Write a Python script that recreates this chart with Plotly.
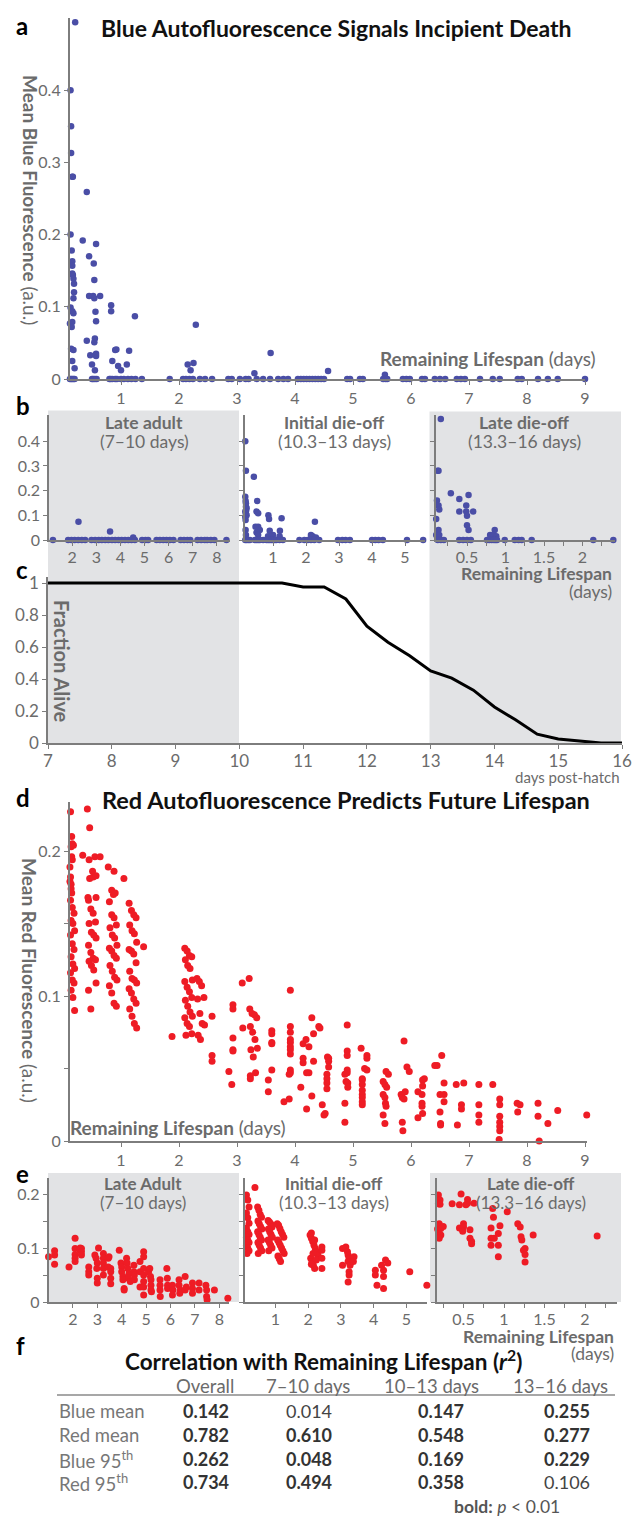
import plotly.graph_objects as go

W, H = 640, 1518
FONT = "Lato, 'Open Sans', sans-serif"
BLUE = "#4a4ea6"
RED = "#ee1c25"
AXC = "#7d7d7d"
TXT = "#6b6b6b"
SHADE = "#e2e3e5"

# ---------------- data ----------------
# panel a : blue mean vs remaining lifespan (all ages)
a_x = [0.21, 0.13, 0.14, 0.14, 0.16, 0.17, 0.41, 0.13, 0.34, 0.57, 0.15, 0.45, 0.16, 0.16, 0.53,
       0.16, 0.17, 0.18, 0.19, 0.54, 0.19, 0.18, 0.45, 0.52, 0.54, 0.64, 0.13, 0.16, 0.18, 0.83,
       0.83, 0.56, 1.24, 0.57, 0.12, 0.16, 0.15, 2.29, 0.41, 0.55, 0.54, 0.14, 0.18, 0.90, 0.92,
       1.14, 3.58, 0.47, 0.57, 0.57, 0.16, 0.20, 0.50, 0.55, 0.85, 0.95, 1.00, 1.10, 2.15, 2.20,
       2.25, 3.30, 4.57, 5.55]
a_y = [0.494, 0.400, 0.350, 0.313, 0.280, 0.280, 0.259, 0.200, 0.192, 0.187, 0.178, 0.170, 0.163,
       0.157, 0.160, 0.146, 0.144, 0.139, 0.132, 0.137, 0.120, 0.112, 0.115, 0.115, 0.112, 0.115,
       0.099, 0.094, 0.091, 0.102, 0.094, 0.093, 0.087, 0.080, 0.077, 0.079, 0.072, 0.075, 0.053,
       0.056, 0.051, 0.042, 0.040, 0.040, 0.041, 0.039, 0.036, 0.033, 0.035, 0.032, 0.025, 0.015,
       0.020, 0.012, 0.025, 0.018, 0.012, 0.020, 0.020, 0.012, 0.022, 0.008, 0.011, 0.006]
a_zero_x = [0.12, 0.14, 0.16, 0.18, 0.20, 0.50, 0.52, 0.55, 0.58, 0.80, 0.82, 0.85, 0.90, 0.93,
            1.00, 1.05, 1.12, 1.18, 1.25, 1.36, 1.84, 2.07, 2.12, 2.18, 2.24, 2.36, 2.45, 2.57,
            2.85, 2.91, 3.05, 3.15, 3.20, 3.34, 3.45, 3.57, 3.71, 3.80, 3.88, 4.05, 4.10, 4.15,
            4.20, 4.25, 4.30, 4.35, 4.40, 4.45, 4.50, 4.90, 4.95, 5.12, 5.17, 5.52, 5.56, 5.59,
            5.86, 5.92, 5.98, 6.19, 6.24, 6.41, 6.50, 6.59, 6.79, 6.86, 6.93, 7.19, 7.41, 7.53,
            7.84, 7.91, 8.19, 8.36, 8.53, 9.00]

# panel b : same data split by age group
b1_x = [2.26, 3.57, 4.53]
b1_y = [0.074, 0.034, 0.010]
b1_zero_x = [0.96, 1.20, 1.83, 1.97, 2.10, 2.25, 2.40, 2.54, 2.80, 2.95, 3.10, 3.23, 3.37, 3.50,
             3.65, 3.78, 3.92, 4.05, 4.19, 4.33, 4.46, 4.60, 4.90, 5.04, 5.15, 5.50, 5.64, 5.78,
             5.91, 6.05, 6.20, 6.50, 6.64, 6.78, 6.90, 7.20, 7.35, 7.50, 7.60, 7.75, 7.90, 8.40]
b2_x = [0.16, 0.18, 0.42, 0.16, 0.17, 0.18, 0.18, 0.19, 0.18, 0.16, 0.17, 0.52, 0.50, 0.55, 0.55,
        0.60, 0.86, 0.88, 1.26, 0.17, 0.18, 0.47, 0.90, 1.21, 2.27, 2.15, 2.20, 2.30, 0.20, 0.16,
        0.20, 0.50, 0.55, 0.85, 1.00, 1.20]
b2_y = [0.400, 0.280, 0.256, 0.175, 0.158, 0.149, 0.135, 0.121, 0.108, 0.094, 0.081, 0.158, 0.115,
        0.108, 0.054, 0.040, 0.100, 0.085, 0.088, 0.040, 0.020, 0.054, 0.037, 0.037, 0.074, 0.020,
        0.015, 0.010, 0.130, 0.115, 0.100, 0.030, 0.020, 0.015, 0.020, 0.015]
b2_zero_x = [0.16, 0.20, 0.25, 0.30, 0.45, 0.50, 0.55, 0.60, 0.70, 0.80, 0.85, 0.90, 0.95, 1.00,
             1.05, 1.10, 1.20, 1.30, 1.80, 1.95, 2.05, 2.15, 2.25, 2.40, 2.97, 3.10, 3.20, 3.33,
             4.00, 4.10, 4.20, 4.33, 5.06, 5.55]
b3_x = [0.16, 0.085, 0.085, 0.12, 0.13, 0.085, 0.29, 0.40, 0.52, 0.11, 0.13, 0.14, 0.40, 0.49,
        0.58, 0.49, 0.50, 0.085, 0.10, 0.50, 0.52, 0.13, 0.14, 0.86, 0.80, 0.84, 0.88, 0.10, 0.12]
b3_y = [0.490, 0.348, 0.313, 0.280, 0.280, 0.196, 0.189, 0.166, 0.182, 0.160, 0.140, 0.123, 0.115,
        0.115, 0.115, 0.140, 0.098, 0.082, 0.085, 0.060, 0.040, 0.040, 0.020, 0.040, 0.020, 0.020,
        0.015, 0.020, 0.010]
b3_zero_x = [0.08, 0.12, 0.16, 0.20, 0.40, 0.45, 0.50, 0.55, 0.76, 0.79, 0.82, 0.85, 0.87, 0.89,
             0.99, 1.12, 1.17, 1.21, 1.34, 2.14, 2.40]

# panel c : survival curve
c_day = [7.0, 10.67, 11.0, 11.33, 11.67, 12.0, 12.33, 12.67, 13.0, 13.33, 13.67, 14.0, 14.33,
         14.67, 15.0, 15.33, 15.67, 16.0]
c_alive = [1.0, 1.0, 0.975, 0.975, 0.90, 0.73, 0.63, 0.545, 0.45, 0.405, 0.33, 0.225, 0.145,
           0.055, 0.025, 0.015, 0.0, 0.0]

# panel d : red mean vs remaining lifespan
d_x = [0.13, 0.42, 0.46, 0.15, 0.16, 0.18, 0.14, 0.34, 0.45, 0.55, 0.64, 0.15, 0.16, 0.12, 0.51,
       0.78, 0.88, 1.05, 0.46, 0.52, 0.57, 0.13, 0.12, 0.14, 0.14, 0.15, 0.84, 0.87, 0.90, 0.43, 0.57,
       0.13, 0.16, 0.19, 0.14, 0.17, 0.20, 0.13, 0.16, 0.19, 0.14, 0.17, 0.20, 0.13, 0.16, 0.19, 0.14,
       0.17, 0.20,
       0.44, 0.48, 0.52, 0.56, 0.45, 0.49, 0.53, 0.57, 0.44, 0.48, 0.52, 0.56, 0.45, 0.49, 0.53, 0.57,
       0.44, 0.48,
       0.80, 0.84, 0.88, 0.92, 0.81, 0.85, 0.89, 0.93, 0.80, 0.84, 0.88, 0.92, 0.81, 0.85, 0.89, 0.93,
       0.80, 0.84, 0.88, 0.92,
       1.14, 1.18, 1.22, 1.26, 1.15, 1.19, 1.23, 1.27, 1.14, 1.18, 1.22, 1.26, 1.15, 1.19, 1.23, 1.27,
       1.14, 1.18, 1.22, 1.26, 1.15, 1.19, 1.23, 1.27,
       1.39, 1.88,
       2.10, 2.14, 2.18, 2.22, 2.11, 2.15, 2.19, 2.23, 2.10, 2.14, 2.18, 2.22, 2.11, 2.15, 2.19, 2.23,
       2.10, 2.14, 2.18, 2.22, 2.12,
       2.31, 2.35, 2.39, 2.43, 2.32, 2.36, 2.40, 2.44, 2.33, 2.37,
       2.57, 2.57, 2.57, 2.86, 2.93, 2.93, 2.93, 2.93, 2.93, 3.09, 3.21,
       3.22, 3.26, 3.30, 3.34, 3.23, 3.27, 3.31, 3.35, 3.24, 3.28, 3.32,
       3.10, 3.60, 3.60, 3.60, 3.60, 3.60, 3.92,
       3.92, 3.92, 3.92, 3.92, 3.92, 3.92, 3.92, 3.92, 3.92,
       4.14, 4.19, 4.24, 4.29, 4.32, 4.41, 4.43, 4.14, 4.14, 4.24, 4.32, 4.56, 4.58, 4.58, 4.58,
       4.90, 4.90, 4.90, 4.90, 4.90, 5.14, 5.24, 5.24, 5.24, 5.88, 5.61, 5.97, 6.23, 6.45, 6.53,
       2.91, 3.23, 3.23, 3.54, 3.54, 3.81, 3.90, 3.90, 4.10, 4.20, 4.29, 4.20, 4.47, 4.50, 4.52,
       4.55, 4.55, 4.55, 4.55, 4.86, 4.88, 4.91, 4.91, 4.86, 4.86,
       5.16, 5.16, 5.16, 5.16, 5.16, 5.16, 5.16, 5.16, 5.20,
       5.52, 5.55, 5.58, 5.52, 5.55, 5.56, 5.57, 5.52, 5.55, 5.57,
       5.83, 5.85, 5.88, 5.90, 5.85, 5.86, 5.93,
       6.12, 6.20, 6.20, 6.19, 6.19, 6.19, 6.20, 6.12, 6.41,
       6.50, 6.57, 6.57, 6.50, 6.51, 6.51, 6.57, 6.78, 6.91, 6.87, 6.87, 6.80,
       7.17, 7.17, 7.17, 7.17, 7.41, 7.53, 7.53, 7.53, 7.53, 7.53, 7.53, 7.52,
       7.83, 7.88, 7.84, 8.19, 8.19, 8.21, 8.36, 8.53, 9.03]
d_y = [0.227, 0.229, 0.216, 0.210, 0.205, 0.204, 0.203, 0.197, 0.194, 0.196, 0.196, 0.196, 0.194,
       0.189, 0.186, 0.189, 0.186, 0.181, 0.181, 0.182, 0.183, 0.182, 0.179, 0.177, 0.174, 0.171,
       0.173, 0.170, 0.171, 0.168, 0.168,
       0.166, 0.161, 0.157, 0.152, 0.150, 0.145, 0.142, 0.136, 0.132, 0.127, 0.122, 0.119, 0.116,
       0.111, 0.109, 0.104, 0.099, 0.090,
       0.166, 0.160, 0.157, 0.151, 0.150, 0.144, 0.142, 0.140, 0.135, 0.130, 0.126, 0.125, 0.124,
       0.121, 0.118, 0.109, 0.104, 0.091,
       0.165, 0.156, 0.154, 0.149, 0.147, 0.142, 0.140, 0.135, 0.133, 0.131, 0.128, 0.126, 0.121,
       0.117, 0.113, 0.111, 0.107, 0.102, 0.095, 0.093,
       0.164, 0.159, 0.156, 0.154, 0.149, 0.145, 0.143, 0.137, 0.132, 0.131, 0.129, 0.123, 0.117,
       0.112, 0.111, 0.109, 0.105, 0.102, 0.098, 0.095, 0.091, 0.086, 0.081, 0.078,
       0.134, 0.072,
       0.133, 0.131, 0.128, 0.127, 0.125, 0.121, 0.119, 0.111, 0.110, 0.106, 0.103, 0.099, 0.097,
       0.093, 0.089, 0.086, 0.085, 0.081, 0.079, 0.074, 0.073,
       0.112, 0.110, 0.107, 0.099, 0.098, 0.088, 0.081, 0.080, 0.073, 0.070,
       0.086, 0.059, 0.055, 0.048, 0.094, 0.091, 0.071, 0.063, 0.062, 0.109, 0.112,
       0.091, 0.088, 0.087, 0.085, 0.079, 0.075, 0.070, 0.064, 0.063, 0.058, 0.047,
       0.078, 0.076, 0.074, 0.068, 0.067, 0.049, 0.104,
       0.079, 0.075, 0.070, 0.068, 0.065, 0.063, 0.060, 0.049, 0.047,
       0.067, 0.070, 0.065, 0.085, 0.074, 0.079, 0.078, 0.057, 0.054, 0.047, 0.055, 0.058, 0.057,
       0.055, 0.051, 0.080, 0.062, 0.059, 0.049, 0.047, 0.064, 0.059, 0.057, 0.049, 0.069, 0.046,
       0.048, 0.043, 0.052, 0.059,
       0.039, 0.045, 0.043, 0.042, 0.034, 0.027, 0.029, 0.046, 0.037, 0.047, 0.031, 0.022, 0.025,
       0.018, 0.019, 0.046, 0.043, 0.040, 0.036, 0.046, 0.041, 0.040, 0.037, 0.026, 0.013,
       0.043, 0.042, 0.039, 0.035, 0.032, 0.030, 0.027, 0.025, 0.050,
       0.041, 0.039, 0.037, 0.032, 0.030, 0.026, 0.024, 0.018, 0.012, 0.048,
       0.032, 0.030, 0.029, 0.034, 0.013, 0.007, 0.051,
       0.034, 0.042, 0.038, 0.032, 0.026, 0.024, 0.019, 0.016, 0.052,
       0.032, 0.032, 0.027, 0.020, 0.012, 0.011, 0.040, 0.039, 0.040, 0.025, 0.022, 0.011,
       0.039, 0.025, 0.018, 0.013, 0.039, 0.029, 0.025, 0.017, 0.013, 0.010, 0.007, 0.001,
       0.026, 0.025, 0.020, 0.026, 0.017, 0.000, 0.012, 0.021, 0.018]

# panel e : red mean split by age group
e1_x = [1.00, 1.25, 1.25, 1.25, 1.84, 2.09, 2.09, 2.09, 2.09, 2.09, 2.30, 2.30, 2.35, 2.35, 2.35,
        2.65, 2.65, 2.65, 2.90, 2.95, 3.00, 2.98, 3.00, 3.00, 3.05, 3.25, 3.25, 3.25, 3.25, 3.25,
        3.45, 3.48, 3.45, 3.55, 3.55, 3.55, 3.55, 3.90, 3.97, 4.00, 4.00, 4.05, 4.05, 4.10, 4.10,
        4.20, 4.22, 4.25, 4.30, 4.28, 4.35, 4.50, 4.50, 4.52, 4.52, 4.75, 4.75, 4.75, 4.90, 4.90,
        4.90, 4.90, 4.90, 4.90, 4.90, 5.10, 5.15, 5.18, 5.20, 5.20, 5.20, 5.22, 5.57, 5.57, 5.57,
        5.58, 5.85, 5.87, 5.88, 5.88, 6.08, 6.10, 6.08, 6.35, 6.35, 6.40, 6.38, 6.60, 6.60, 6.65,
        6.90, 6.90, 6.90, 7.17, 7.17, 7.45, 7.48, 7.48, 7.50, 7.80, 8.35]
e1_y = [0.084, 0.095, 0.087, 0.070, 0.065, 0.118, 0.099, 0.088, 0.081, 0.075, 0.100, 0.096, 0.099,
        0.093, 0.087, 0.065, 0.056, 0.050, 0.087, 0.081, 0.072, 0.062, 0.044, 0.035, 0.100, 0.090,
        0.081, 0.072, 0.062, 0.050, 0.081, 0.084, 0.065, 0.062, 0.056, 0.044, 0.034, 0.096, 0.072,
        0.065, 0.056, 0.047, 0.041, 0.025, 0.022, 0.081, 0.072, 0.062, 0.053, 0.044, 0.038, 0.068,
        0.056, 0.050, 0.041, 0.028, 0.075, 0.056, 0.093, 0.084, 0.062, 0.050, 0.038, 0.028, 0.013,
        0.056, 0.062, 0.047, 0.041, 0.031, 0.022, 0.019, 0.041, 0.031, 0.022, 0.010, 0.062, 0.044,
        0.031, 0.025, 0.031, 0.022, 0.013, 0.041, 0.031, 0.022, 0.016, 0.047, 0.022, 0.028, 0.035,
        0.025, 0.016, 0.035, 0.022, 0.031, 0.022, 0.010, 0.004, 0.022, 0.007]
e2_x = [0.38, 0.12, 0.16, 0.20, 0.12, 0.16, 0.20, 0.12, 0.16, 0.20, 0.12, 0.16, 0.20, 0.12, 0.16,
        0.20, 0.14,
        0.46, 0.50, 0.54, 0.58, 0.47, 0.51, 0.55, 0.59, 0.46, 0.50, 0.54, 0.58, 0.47, 0.51, 0.55,
        0.59, 0.48,
        0.78, 0.82, 0.86, 0.90, 0.79, 0.83, 0.87, 0.91, 0.78, 0.82, 0.86, 0.90, 0.80,
        1.06, 1.10, 1.14, 1.18, 1.22, 1.26, 1.07, 1.11, 1.15, 1.19, 1.23, 1.27, 1.08, 1.12, 1.16,
        2.06, 2.10, 2.14, 2.18, 2.22, 2.26, 2.30, 2.08, 2.12, 2.16, 2.20, 2.10, 2.20, 2.15, 2.25,
        2.10, 2.42, 2.42, 2.42, 2.42,
        3.05, 3.05, 3.15, 3.20, 3.22, 3.25, 3.22, 3.28, 3.25, 3.25, 3.22, 3.40, 3.38,
        4.05, 4.05, 4.10, 4.24, 4.30, 4.30, 4.36, 4.43, 4.30, 5.10, 5.62]
e2_y = [0.212, 0.198, 0.189, 0.176, 0.165, 0.156, 0.146, 0.137, 0.130, 0.125, 0.120, 0.115, 0.110,
        0.105, 0.100, 0.095, 0.090,
        0.176, 0.170, 0.162, 0.157, 0.150, 0.145, 0.140, 0.135, 0.130, 0.125, 0.120, 0.115, 0.110,
        0.105, 0.100, 0.095, 0.090,
        0.151, 0.148, 0.145, 0.139, 0.135, 0.130, 0.125, 0.120, 0.115, 0.110, 0.105, 0.100, 0.095,
        0.145, 0.142, 0.136, 0.130, 0.125, 0.120, 0.115, 0.110, 0.105, 0.100, 0.095, 0.090, 0.085,
        0.080, 0.075,
        0.124, 0.118, 0.112, 0.105, 0.099, 0.093, 0.087, 0.081, 0.075, 0.068, 0.062, 0.128, 0.115,
        0.090, 0.078, 0.070, 0.102, 0.096, 0.081, 0.062,
        0.099, 0.068, 0.102, 0.093, 0.087, 0.081, 0.075, 0.068, 0.056, 0.050, 0.037, 0.084, 0.075,
        0.059, 0.050, 0.031, 0.068, 0.059, 0.047, 0.078, 0.072, 0.025, 0.056, 0.031]
e3_x = [0.16, 0.19, 0.21, 0.19, 0.21, 0.47, 0.36, 0.45, 0.55, 0.55, 0.53, 0.63, 0.86, 0.87, 1.04,
        0.18, 0.20, 0.22, 0.45, 0.50, 0.50, 0.84, 0.95, 1.17, 1.20,
        0.20, 0.22, 0.20, 0.25, 0.49, 0.58, 0.58, 0.60, 0.60, 0.84, 0.88, 0.93, 0.84, 0.93, 0.93,
        1.21, 1.22, 1.26, 1.24, 1.26, 1.26, 1.36, 2.15, 2.40]
e3_y = [0.211, 0.198, 0.189, 0.182, 0.181, 0.200, 0.182, 0.180, 0.190, 0.183, 0.180, 0.183, 0.173,
        0.157, 0.167, 0.135, 0.145, 0.136, 0.137, 0.145, 0.139, 0.137, 0.141, 0.145, 0.139,
        0.127, 0.124, 0.118, 0.140, 0.131, 0.134, 0.118, 0.112, 0.108, 0.118, 0.118, 0.105, 0.105,
        0.084, 0.127, 0.121, 0.115, 0.099, 0.096, 0.074, 0.088, 0.124, 0.122, 0.081]

# panel f : table
f_cols = ["Overall", "7\u201310 days", "10\u201313 days", "13\u201316 days"]
f_rows = ["Blue mean", "Red mean", "Blue 95<sup>th</sup>", "Red 95<sup>th</sup>"]
f_vals = [["0.142", "0.014", "0.147", "0.255"],
          ["0.782", "0.610", "0.548", "0.277"],
          ["0.262", "0.048", "0.169", "0.229"],
          ["0.734", "0.494", "0.358", "0.106"]]
f_bold = [[True, False, True, True],
          [True, True, True, True],
          [True, True, True, True],
          [True, True, True, False]]

# tick values
days9 = [1, 2, 3, 4, 5, 6, 7, 8, 9]
days_b1 = [2, 3, 4, 5, 6, 7, 8]
days_b2 = [1, 2, 3, 4, 5]
days_b3 = [0.5, 1, 1.5, 2]
days_b3_minor = [0.25, 0.75, 1.25, 1.75, 2.25]
blue_ticks = [0, 0.1, 0.2, 0.3, 0.4]
red_ticks = [0, 0.1, 0.2]
red_minor = [0.05, 0.15]
c_days = [7, 8, 9, 10, 11, 12, 13, 14, 15, 16]
c_ticks = [0, 0.2, 0.4, 0.6, 0.8, 1]

# ---------------- figure ----------------
fig = go.Figure()
layout = dict(width=W, height=H, margin=dict(l=0, r=0, t=0, b=0),
              paper_bgcolor="white", plot_bgcolor="rgba(0,0,0,0)",
              showlegend=False, font=dict(family=FONT, color=TXT))


def PX(px):
    return px / W


def PY(py):
    return 1 - py / H


def fmt(v):
    return ("%g" % v)


def add_axes(i, xdom, xmap, ydom, ymap, xtv, ytv, xminor=None, yminor=None,
             xlabels=True, ylabels=True, tsize=16, xstand=0):
    # xmap: px = x0 + v*s ; ymap: py = y0 - v*s
    xr = [(xdom[0] - xmap[0]) / xmap[1], (xdom[1] - xmap[0]) / xmap[1]]
    yr = [(ymap[0] - ydom[0]) / ymap[1], (ymap[0] - ydom[1]) / ymap[1]]
    sfx = "" if i == 1 else str(i)
    common = dict(showgrid=False, zeroline=False, showline=True, linecolor=AXC, linewidth=1.6,
                  ticks="outside", ticklen=4, tickwidth=1.3, tickcolor=AXC, automargin=False,
                  tickfont=dict(size=tsize, color=TXT, family=FONT), fixedrange=True,
                  tickmode="array")
    xa = dict(common, domain=[PX(xdom[0]), PX(xdom[1])], range=xr, anchor="y" + sfx,
              tickvals=xtv, ticktext=[fmt(v) for v in xtv], showticklabels=xlabels,
              ticklabelstandoff=xstand)
    ya = dict(common, domain=[PY(ydom[0]), PY(ydom[1])], range=yr, anchor="x" + sfx,
              tickvals=ytv, ticktext=[fmt(v) for v in ytv], showticklabels=ylabels)
    if xminor:
        xa["minor"] = dict(tickmode="array", tickvals=xminor, ticks="outside", ticklen=4,
                           tickwidth=1.3, tickcolor=AXC, showgrid=False)
    if yminor:
        ya["minor"] = dict(tickmode="array", tickvals=yminor, ticks="outside", ticklen=4,
                           tickwidth=1.3, tickcolor=AXC, showgrid=False)
    layout["xaxis" + sfx] = xa
    layout["yaxis" + sfx] = ya


def scat(i, xs, ys, color, size):
    sfx = "" if i == 1 else str(i)
    fig.add_trace(go.Scatter(x=xs, y=ys, mode="markers", xaxis="x" + sfx, yaxis="y" + sfx,
                             marker=dict(color=color, size=size, line=dict(width=0)),
                             cliponaxis=False, hoverinfo="skip"))


# a
add_axes(1, (69.7, 585), (63, 58), (379, 18), (379, 722), days9, blue_ticks)
# b
add_axes(2, (49, 230), (24, 24.1), (540, 415), (540, 247), days_b1, blue_ticks, xstand=-2)
add_axes(3, (245, 425), (240, 33), (540, 415), (540, 247), days_b2, blue_ticks, ylabels=False,
         xstand=-2)
add_axes(4, (436, 615), (428.5, 77), (540, 415), (540, 247), days_b3, blue_ticks,
         xminor=days_b3_minor, ylabels=False, xstand=-2)
# c
add_axes(5, (48, 622), (48 - 7 * 63.78, 63.78), (743, 577), (743, 160), c_days, c_ticks,
         tsize=17, xstand=-2)
# d
add_axes(6, (69.7, 587), (63, 58), (1141, 802), (1141, 1450), days9, red_ticks, yminor=red_minor)
# e
add_axes(7, (48.5, 229), (24.1, 24.4), (1302, 1178), (1302, 540), days_b1, red_ticks,
         yminor=red_minor, xstand=-2)
add_axes(8, (245, 427), (242.5, 32.8), (1302, 1178), (1302, 540), days_b2, red_ticks,
         yminor=red_minor, ylabels=False, xstand=-2)
add_axes(9, (437, 617), (423, 81), (1302, 1178), (1302, 540), days_b3, red_ticks,
         xminor=days_b3_minor, yminor=red_minor, ylabels=False, xstand=-2)

# traces
scat(1, a_x + a_zero_x, a_y + [0.0] * len(a_zero_x), BLUE, 6.5)
scat(2, b1_x + b1_zero_x, b1_y + [0.0] * len(b1_zero_x), BLUE, 6.5)
scat(3, b2_x + b2_zero_x, b2_y + [0.0] * len(b2_zero_x), BLUE, 6.5)
scat(4, b3_x + b3_zero_x, b3_y + [0.0] * len(b3_zero_x), BLUE, 6.5)
fig.add_trace(go.Scatter(x=c_day, y=c_alive, mode="lines", xaxis="x5", yaxis="y5",
                         line=dict(color="black", width=3), cliponaxis=False, hoverinfo="skip"))
scat(6, d_x, d_y, RED, 7)
scat(7, e1_x, e1_y, RED, 7)
scat(8, e2_x, e2_y, RED, 7)
scat(9, e3_x, e3_y, RED, 7)

# shaded age-group columns
shapes = []
for (x0, x1, y0, y1) in [(48, 239, 410.5, 743), (429.5, 621, 411.5, 743),
                         (48, 239, 1173, 1302), (430, 621, 1173, 1302)]:
    shapes.append(dict(type="rect", xref="paper", yref="paper", x0=PX(x0), x1=PX(x1),
                       y0=PY(y1), y1=PY(y0), fillcolor=SHADE, line=dict(width=0), layer="below"))
shapes.append(dict(type="line", xref="paper", yref="paper", x0=PX(57), x1=PX(615),
                   y0=PY(1395), y1=PY(1395), line=dict(color="#8a8a8a", width=1.5)))
layout["shapes"] = shapes

ann = []


def T(text, x, y, size, color=TXT, xa="center", angle=0, ya="middle"):
    ann.append(dict(text=text, x=PX(x), y=PY(y), xref="paper", yref="paper", showarrow=False,
                    xanchor=xa, yanchor=ya, textangle=angle,
                    font=dict(size=size, color=color, family=FONT)))


# panel letters
for letter, y in [("a", 25), ("b", 406), ("c", 569), ("d", 797), ("e", 1173), ("f", 1345)]:
    T("<b>" + letter + "</b>", 14, y, 24, "black", "left")

T("<b>Blue Autofluorescence Signals Incipient Death</b>", 336, 28, 23, "#111111")
T("<b>Mean Blue Fluorescence</b> (a.u.)", 30, 200, 19, TXT, angle=90)
T("<b>Remaining Lifespan</b> (days)", 488, 358, 19)

for cx, l1, l2 in [(144, "Late adult", "(7\u201310 days)"),
                   (334, "Initial die-off", "(10.3\u201313 days)"),
                   (524, "Late die-off", "(13.3\u201316 days)")]:
    T("<b>" + l1 + "</b>", cx, 422, 17.5)
    T(l2, cx, 441, 17.5)
T("<b>Remaining Lifespan</b>", 614, 573, 17.5, xa="right")
T("(days)", 614, 591, 17.5, xa="right")

T("<b>Fraction Alive</b>", 62, 661, 20, TXT, angle=90)
T("days post-hatch", 622, 777, 15, xa="right")

T("<b>Red Autofluorescence Predicts Future Lifespan</b>", 346, 800, 23.5, "#111111")
T("<b>Mean Red Fluorescence</b> (a.u.)", 30, 980, 19, TXT, angle=90)
T("<b>Remaining Lifespan</b> (days)", 68, 1127, 19, xa="left")

for cx, l1, l2 in [(143, "Late Adult", "(7\u201310 days)"),
                   (334, "Initial die-off", "(10.3\u201313 days)"),
                   (531, "Late die-off", "(13.3\u201316 days)")]:
    T("<b>" + l1 + "</b>", cx, 1183, 17)
    T(l2, cx, 1202, 17)
T("<b>Remaining Lifespan</b>", 616, 1336, 17.5, xa="right")
T("(days)", 616, 1353, 17.5, xa="right")

# panel f table
T("<b>Correlation with Remaining Lifespan (<i>r</i><sup>2</sup>)</b>", 323, 1360, 22.5, "#111111")
col_cx = [205, 308, 431, 560]
val_cx = [206, 309, 441, 567]
for j, c in enumerate(f_cols):
    T(c, col_cx[j], 1386, 18.5, TXT)
row_y = [1411, 1435, 1459, 1482]
for i, r in enumerate(f_rows):
    T(r, 57, row_y[i], 18.5, "#777777", "left")
    for j in range(4):
        v = f_vals[i][j]
        if f_bold[i][j]:
            T("<b>" + v + "</b>", val_cx[j], row_y[i], 18, "#333333")
        else:
            T(v, val_cx[j], row_y[i], 18, "#444444")
T("<b>bold:</b> <i>p</i> < 0.01", 507, 1506, 17.5, "#555555")

layout["annotations"] = ann
fig.update_layout(**layout)
fig.write_html("out.html")
